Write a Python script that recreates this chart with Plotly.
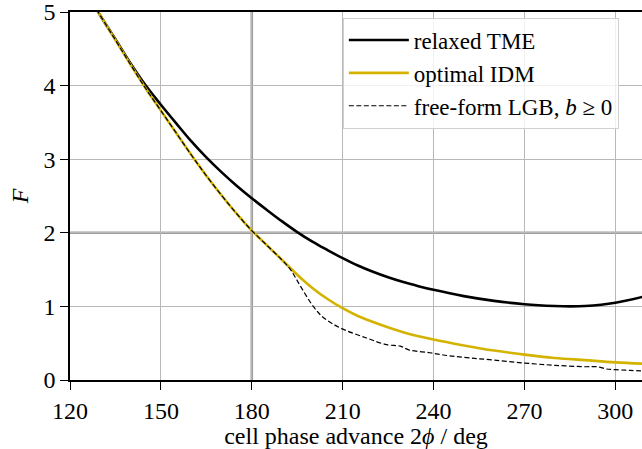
import plotly.graph_objects as go

# Phase advance grid (deg) and fill factor F for each model
x_tme = [125, 129.3, 135, 140, 145, 150, 155, 160, 165, 170, 175, 180, 185, 190, 195,
         200, 205, 210, 215, 220, 225, 230, 235, 240, 250, 260, 270, 280, 285, 290, 300, 310]
f_tme = [5.33, 5.0, 4.63, 4.30, 4.0, 3.74, 3.49, 3.245, 3.025, 2.825, 2.64, 2.47, 2.31, 2.155, 2.01,
         1.88, 1.765, 1.655, 1.555, 1.47, 1.395, 1.33, 1.275, 1.225, 1.14, 1.075, 1.03, 1.005,
         1.0, 1.005, 1.05, 1.14]

x_idm = [125, 129.3, 135, 140, 145, 150, 155, 160, 165, 170, 175, 180, 185, 190, 195,
         200, 205, 210, 215, 222.3, 230, 240, 250, 260, 270, 280, 290, 300, 310]
f_idm = [5.3, 5.0, 4.62, 4.285, 3.96, 3.66, 3.36, 3.06, 2.775, 2.51, 2.26, 2.03, 1.83, 1.63, 1.43,
         1.25, 1.10, 0.975, 0.87, 0.755, 0.65, 0.55, 0.47, 0.40, 0.345, 0.30, 0.27, 0.24, 0.22]

x_lgb = [125, 129.3, 135, 140, 145, 150, 155, 160, 165, 170, 175, 180, 185, 190, 192.6,
         194.3, 196, 200.3, 203.6, 209.1, 217.9, 224.5, 229, 231.8, 238.8, 245, 252, 260, 270,
         280, 290, 294, 297, 300, 305, 310]
f_lgb = [5.3, 5.0, 4.62, 4.285, 3.96, 3.66, 3.36, 3.06, 2.775, 2.51, 2.26, 2.03, 1.83, 1.63, 1.51,
         1.40, 1.28, 1.0, 0.85, 0.71, 0.57, 0.48, 0.46, 0.41, 0.37, 0.33, 0.30, 0.27, 0.23,
         0.20, 0.18, 0.18, 0.15, 0.14, 0.13, 0.12]

x_ticks = [120, 150, 180, 210, 240, 270, 300]
y_ticks = [0, 1, 2, 3, 4, 5]
highlight_x = 180
highlight_y = 2

FONT = "Liberation Serif"
GOLD = "#d4b300"
TICKFONT = dict(family=FONT, size=24, color="black")

fig = go.Figure()
fig.add_trace(go.Scatter(x=x_tme, y=f_tme, mode="lines", name="relaxed TME",
                         line=dict(color="black", width=2.6, shape="spline", smoothing=1.0)))
fig.add_trace(go.Scatter(x=x_idm, y=f_idm, mode="lines", name="optimal IDM",
                         line=dict(color=GOLD, width=2.6, shape="spline", smoothing=1.0)))
fig.add_trace(go.Scatter(x=x_lgb, y=f_lgb, mode="lines",
                         name="free-form LGB, <i>b</i> ≥ 0",
                         line=dict(color="black", width=1.2, dash="5px,2.5px",
                                   shape="spline", smoothing=1.0)))

# emphasised reference lines
fig.add_shape(type="line", xref="x", yref="paper", x0=highlight_x, x1=highlight_x, y0=0, y1=1,
              line=dict(color="#9e9e9e", width=2.6), layer="below")
fig.add_shape(type="line", xref="paper", yref="y", x0=0, x1=1, y0=highlight_y, y1=highlight_y,
              line=dict(color="#9e9e9e", width=2.6), layer="below")

fig.update_layout(
    width=642, height=449,
    margin=dict(l=70, r=0, t=12, b=69),
    paper_bgcolor="white", plot_bgcolor="white",
    font=dict(family=FONT, size=24, color="black"),
    showlegend=True,
    legend=dict(x=0.477, y=0.985, xanchor="left", yanchor="top",
                bgcolor="rgba(255,255,255,0.8)", bordercolor="#d0d0d0", borderwidth=1,
                font=dict(family=FONT, size=23), itemwidth=60, tracegroupgap=0),
)
fig.update_xaxes(
    range=[120, 308.8], tickvals=x_ticks, ticks="outside", ticklen=8, tickwidth=1.3,
    tickcolor="black", tickfont=TICKFONT, ticklabeloverflow="allow",
    showline=True, linecolor="black", linewidth=1.5,
    mirror=True, showgrid=True, gridcolor="#b8b8b8", gridwidth=1.2, zeroline=False,
    title=dict(text="cell phase advance 2<i>ϕ</i> / deg", standoff=8,
               font=dict(family=FONT, size=24)),
)
fig.update_yaxes(
    range=[0, 5], tickvals=y_ticks, ticks="outside", ticklen=8, tickwidth=1.3,
    tickcolor="black", tickfont=TICKFONT, ticklabeloverflow="allow",
    showline=True, linecolor="black", linewidth=1.5,
    showgrid=True, gridcolor="#b8b8b8", gridwidth=1.2, zeroline=False,
    title=dict(text="<i>F</i>", standoff=8, font=dict(family=FONT, size=24)),
)

fig.write_html("out.html")
